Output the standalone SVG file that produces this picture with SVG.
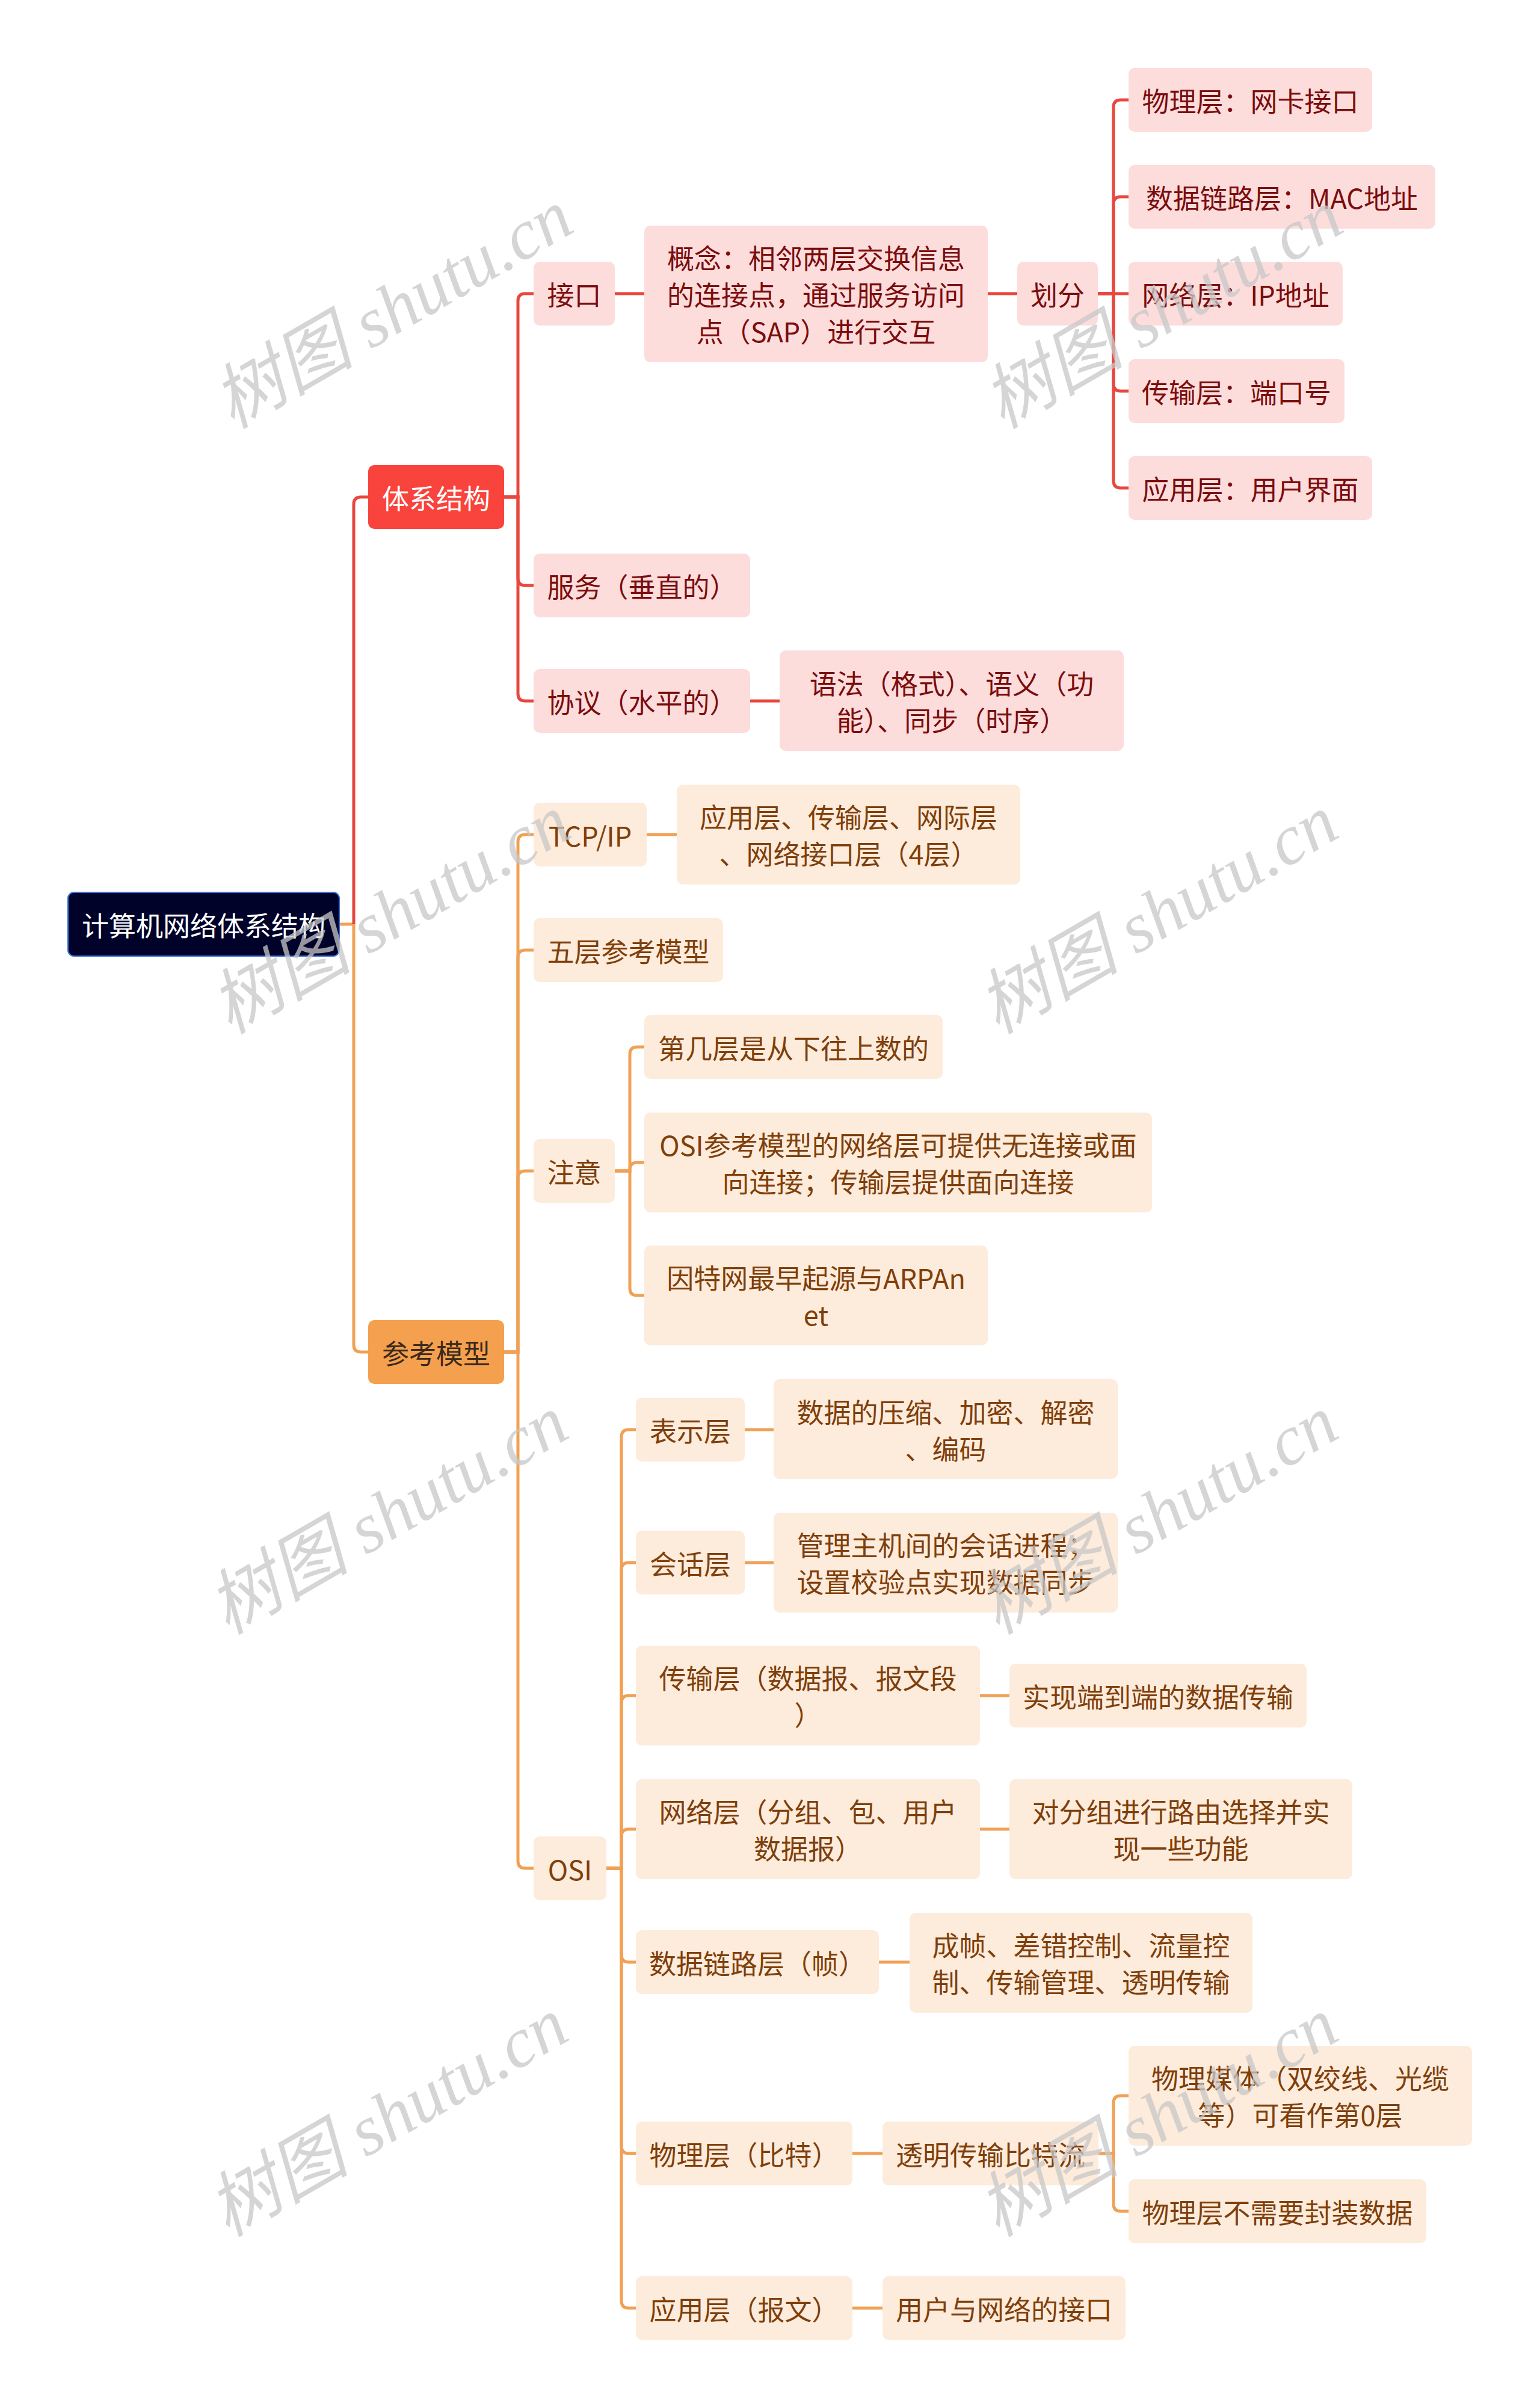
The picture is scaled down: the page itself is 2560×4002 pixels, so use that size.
<svg xmlns="http://www.w3.org/2000/svg" width="2560" height="4002" viewBox="0 0 2560 4002">
<style>
text{font-family:"Noto Sans CJK SC","Liberation Sans",sans-serif;font-size:45px;text-anchor:middle;dominant-baseline:central}
.root rect{fill:#000229;stroke:#3a6fd8;stroke-width:2}
.root text{fill:#ffffff}
.r1 rect{fill:#f8443c}
.r1 text{fill:#ffffff}
.r2 rect{fill:#fddcdc}
.r2 text{fill:#7b0d0d}
.o1 rect{fill:#f4a04e}
.o1 text{fill:#3b2a1c}
.o2 rect{fill:#fdebdb}
.o2 text{fill:#7f3f0b}
.lr{fill:none;stroke:#e8473f;stroke-width:5}
.lo{fill:none;stroke:#f0a155;stroke-width:5}
.wm{font-family:"Liberation Serif","Noto Sans CJK SC",serif;font-size:118px;font-style:italic;fill:#c8c8c8;opacity:0.75}
</style>
<rect width="2560" height="4002" fill="#ffffff"/>
<g id="connectors">
<path class="lo" d="M564,1536 H588 V2235 Q588,2247 600,2247 H612"/>
<path class="lr" d="M588,1536 V838 Q588,826 600,826 H612"/>
<path class="lr" d="M838,826 H861 V500 Q861,488 873,488 H887"/>
<path class="lr" d="M838,826 H861 V961 Q861,973 873,973 H887"/>
<path class="lr" d="M838,826 H861 V1153 Q861,1165 873,1165 H887"/>
<path class="lr" d="M1022,488 H1071"/>
<path class="lr" d="M1642,488 H1691"/>
<path class="lr" d="M1825,488 H1851 V178 Q1851,166 1863,166 H1876"/>
<path class="lr" d="M1825,488 H1851 V339 Q1851,327 1863,327 H1876"/>
<path class="lr" d="M1825,488 H1876"/>
<path class="lr" d="M1825,488 H1851 V638 Q1851,650 1863,650 H1876"/>
<path class="lr" d="M1825,488 H1851 V799 Q1851,811 1863,811 H1876"/>
<path class="lr" d="M1247,1165 H1296"/>
<path class="lo" d="M838,2247 H861 V1399 Q861,1387 873,1387 H887"/>
<path class="lo" d="M838,2247 H861 V1591 Q861,1579 873,1579 H887"/>
<path class="lo" d="M838,2247 H861 V1958 Q861,1946 873,1946 H887"/>
<path class="lo" d="M838,2247 H861 V3093 Q861,3105 873,3105 H887"/>
<path class="lo" d="M1075,1387 H1125"/>
<path class="lo" d="M1022,1946 H1047 V1752 Q1047,1740 1059,1740 H1071"/>
<path class="lo" d="M1022,1946 H1047 V1944 Q1047,1932 1059,1932 H1071"/>
<path class="lo" d="M1022,1946 H1047 V2141 Q1047,2153 1059,2153 H1071"/>
<path class="lo" d="M1008,3105 H1033 V2388 Q1033,2376 1045,2376 H1057"/>
<path class="lo" d="M1008,3105 H1033 V2609 Q1033,2597 1045,2597 H1057"/>
<path class="lo" d="M1008,3105 H1033 V2830 Q1033,2818 1045,2818 H1057"/>
<path class="lo" d="M1008,3105 H1033 V3052 Q1033,3040 1045,3040 H1057"/>
<path class="lo" d="M1008,3105 H1033 V3249 Q1033,3261 1045,3261 H1057"/>
<path class="lo" d="M1008,3105 H1033 V3567 Q1033,3579 1045,3579 H1057"/>
<path class="lo" d="M1008,3105 H1033 V3824 Q1033,3836 1045,3836 H1057"/>
<path class="lo" d="M1238,2376 H1286"/>
<path class="lo" d="M1238,2597 H1286"/>
<path class="lo" d="M1629,2818 H1678"/>
<path class="lo" d="M1629,3040 H1678"/>
<path class="lo" d="M1461,3261 H1512"/>
<path class="lo" d="M1417,3579 H1467"/>
<path class="lo" d="M1417,3836 H1467"/>
<path class="lo" d="M1826,3579 H1851 V3495 Q1851,3483 1863,3483 H1876"/>
<path class="lo" d="M1826,3579 H1851 V3663 Q1851,3675 1863,3675 H1876"/>
</g>
<g id="root" class="root"><rect x="113" y="1483" width="451" height="106" rx="10"/><text x="338.5" y="1536">计算机网络体系结构</text></g>
<g id="n-tixi" class="r1"><rect x="612" y="773" width="226" height="106" rx="10"/><text x="725" y="826">体系结构</text></g>
<g id="n-jiekou" class="r2"><rect x="887" y="435" width="135" height="106" rx="10"/><text x="954.5" y="488">接口</text></g>
<g id="n-gainian" class="r2"><rect x="1071" y="375" width="571" height="227" rx="10"/><text x="1356.5" y="427">概念：相邻两层交换信息</text><text x="1356.5" y="488">的连接点，通过服务访问</text><text x="1356.5" y="549">点（SAP）进行交互</text></g>
<g id="n-huafen" class="r2"><rect x="1691" y="435" width="134" height="106" rx="10"/><text x="1758" y="488">划分</text></g>
<g id="n-wl1" class="r2"><rect x="1876" y="113" width="405" height="106" rx="10"/><text x="2078.5" y="166">物理层：网卡接口</text></g>
<g id="n-sj1" class="r2"><rect x="1876" y="274" width="510" height="106" rx="10"/><text x="2131" y="327">数据链路层：MAC地址</text></g>
<g id="n-wl2" class="r2"><rect x="1876" y="435" width="356" height="106" rx="10"/><text x="2054" y="488">网络层：IP地址</text></g>
<g id="n-cs1" class="r2"><rect x="1876" y="597" width="359" height="106" rx="10"/><text x="2055.5" y="650">传输层：端口号</text></g>
<g id="n-yy1" class="r2"><rect x="1876" y="758" width="405" height="106" rx="10"/><text x="2078.5" y="811">应用层：用户界面</text></g>
<g id="n-fuwu" class="r2"><rect x="887" y="920" width="360" height="106" rx="10"/><text x="1067" y="973">服务（垂直的）</text></g>
<g id="n-xieyi" class="r2"><rect x="887" y="1112" width="360" height="106" rx="10"/><text x="1067" y="1165">协议（水平的）</text></g>
<g id="n-yufa" class="r2"><rect x="1296" y="1081" width="572" height="167" rx="10"/><text x="1582" y="1134">语法（格式）、语义（功</text><text x="1582" y="1195">能）、同步（时序）</text></g>
<g id="n-cankao" class="o1"><rect x="612" y="2194" width="226" height="106" rx="10"/><text x="725" y="2247">参考模型</text></g>
<g id="n-tcpip" class="o2"><rect x="887" y="1334" width="188" height="106" rx="10"/><text x="981" y="1387">TCP/IP</text></g>
<g id="n-tcp4" class="o2"><rect x="1125" y="1304" width="571" height="166" rx="10"/><text x="1410.5" y="1356">应用层、传输层、网际层</text><text x="1410.5" y="1417">、网络接口层（4层）</text></g>
<g id="n-wuceng" class="o2"><rect x="887" y="1526" width="315" height="106" rx="10"/><text x="1044.5" y="1579">五层参考模型</text></g>
<g id="n-zhuyi" class="o2"><rect x="887" y="1893" width="135" height="106" rx="10"/><text x="954.5" y="1946">注意</text></g>
<g id="n-diji" class="o2"><rect x="1071" y="1687" width="496" height="106" rx="10"/><text x="1319" y="1740">第几层是从下往上数的</text></g>
<g id="n-osinote" class="o2"><rect x="1071" y="1849" width="844" height="166" rx="10"/><text x="1493" y="1901">OSI参考模型的网络层可提供无连接或面</text><text x="1493" y="1962">向连接；传输层提供面向连接</text></g>
<g id="n-arpa" class="o2"><rect x="1071" y="2070" width="571" height="166" rx="10"/><text x="1356.5" y="2122">因特网最早起源与ARPAn</text><text x="1356.5" y="2183">et</text></g>
<g id="n-osi" class="o2"><rect x="887" y="3052" width="121" height="106" rx="10"/><text x="947.5" y="3105">OSI</text></g>
<g id="n-biaoshi" class="o2"><rect x="1057" y="2323" width="181" height="106" rx="10"/><text x="1147.5" y="2376">表示层</text></g>
<g id="n-biaoshi-d" class="o2"><rect x="1286" y="2292" width="572" height="166" rx="10"/><text x="1572" y="2345">数据的压缩、加密、解密</text><text x="1572" y="2406">、编码</text></g>
<g id="n-huihua" class="o2"><rect x="1057" y="2544" width="181" height="106" rx="10"/><text x="1147.5" y="2597">会话层</text></g>
<g id="n-huihua-d" class="o2"><rect x="1286" y="2514" width="572" height="166" rx="10"/><text x="1572" y="2566">管理主机间的会话进程；</text><text x="1572" y="2627">设置校验点实现数据同步</text></g>
<g id="n-chuanshu" class="o2"><rect x="1057" y="2735" width="572" height="166" rx="10"/><text x="1343" y="2787">传输层（数据报、报文段</text><text x="1343" y="2848">）</text></g>
<g id="n-chuanshu-d" class="o2"><rect x="1678" y="2765" width="494" height="106" rx="10"/><text x="1925" y="2818">实现端到端的数据传输</text></g>
<g id="n-wangluo" class="o2"><rect x="1057" y="2957" width="572" height="166" rx="10"/><text x="1343" y="3009">网络层（分组、包、用户</text><text x="1343" y="3070">数据报）</text></g>
<g id="n-wangluo-d" class="o2"><rect x="1678" y="2957" width="570" height="166" rx="10"/><text x="1963" y="3009">对分组进行路由选择并实</text><text x="1963" y="3070">现一些功能</text></g>
<g id="n-lianlu" class="o2"><rect x="1057" y="3208" width="404" height="106" rx="10"/><text x="1259" y="3261">数据链路层（帧）</text></g>
<g id="n-lianlu-d" class="o2"><rect x="1512" y="3179" width="570" height="166" rx="10"/><text x="1797" y="3231">成帧、差错控制、流量控</text><text x="1797" y="3292">制、传输管理、透明传输</text></g>
<g id="n-wuli" class="o2"><rect x="1057" y="3526" width="360" height="106" rx="10"/><text x="1237" y="3579">物理层（比特）</text></g>
<g id="n-wuli-d" class="o2"><rect x="1467" y="3526" width="359" height="106" rx="10"/><text x="1646.5" y="3579">透明传输比特流</text></g>
<g id="n-meiti" class="o2"><rect x="1876" y="3400" width="571" height="166" rx="10"/><text x="2161.5" y="3452">物理媒体（双绞线、光缆</text><text x="2161.5" y="3513">等）可看作第0层</text></g>
<g id="n-fengzhuang" class="o2"><rect x="1876" y="3622" width="495" height="106" rx="10"/><text x="2123.5" y="3675">物理层不需要封装数据</text></g>
<g id="n-yingyong" class="o2"><rect x="1057" y="3783" width="360" height="106" rx="10"/><text x="1237" y="3836">应用层（报文）</text></g>
<g id="n-yingyong-d" class="o2"><rect x="1467" y="3783" width="404" height="106" rx="10"/><text x="1669" y="3836">用户与网络的接口</text></g>
<g id="watermarks">
<text class="wm" transform="translate(653,514) rotate(-30)">树图 shutu.cn</text>
<text class="wm" transform="translate(1933,514) rotate(-30)">树图 shutu.cn</text>
<text class="wm" transform="translate(649,1520) rotate(-30)">树图 shutu.cn</text>
<text class="wm" transform="translate(1925,1520) rotate(-30)">树图 shutu.cn</text>
<text class="wm" transform="translate(645,2518) rotate(-30)">树图 shutu.cn</text>
<text class="wm" transform="translate(1925,2518) rotate(-30)">树图 shutu.cn</text>
<text class="wm" transform="translate(645,3519) rotate(-30)">树图 shutu.cn</text>
<text class="wm" transform="translate(1925,3519) rotate(-30)">树图 shutu.cn</text>
</g>
</svg>
